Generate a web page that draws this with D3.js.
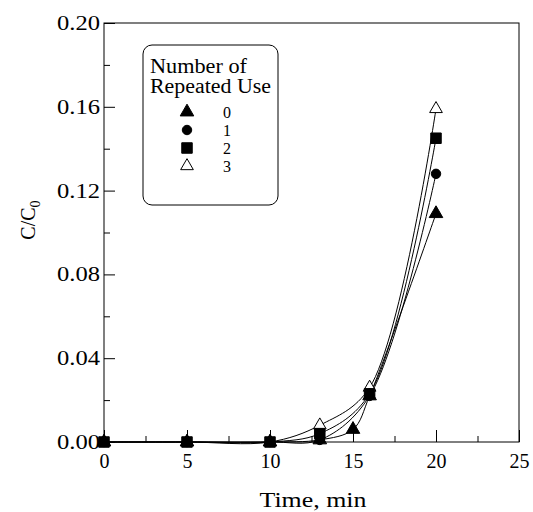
<!DOCTYPE html>
<html>
<head>
<meta charset="utf-8">
<script src="https://cdn.jsdelivr.net/npm/d3@7"></script>
<style>
  body { margin: 0; background: #fff; }
  svg text { font-family: "Liberation Serif", "Times New Roman", serif; fill: #000; }
</style>
</head>
<body>
<svg id="chart" width="533" height="512"></svg>
<script>
// ######## data
const use0 = [[0, 0], [5, 0], [10, 0], [13, 0.001], [15, 0.006], [16, 0.022], [20, 0.109]];
const use1 = [[0, 0], [5, 0], [10, 0], [13, 0.001], [16, 0.022], [20, 0.128]];
const use2 = [[0, 0], [5, 0], [10, 0], [13, 0.004], [16, 0.023], [20, 0.145]];
const use3 = [[0, 0], [5, 0], [10, 0], [13, 0.008], [16, 0.026], [20, 0.159]];

const seriesNames = ["0", "1", "2", "3"];
const xTicks = [0, 5, 10, 15, 20, 25];
const yTicks = [0, 0.04, 0.08, 0.12, 0.16, 0.20];

const serif = '"Liberation Serif", "Times New Roman", serif';

const svg = d3.select("#chart");
const x = d3.scaleLinear().domain([0, 25]).range([104, 519]);
const y = d3.scaleLinear().domain([0, 0.2]).range([442, 23]);

// frame
svg.append("rect")
    .attr("x", x(0)).attr("y", y(0.2))
    .attr("width", x(25) - x(0)).attr("height", y(0) - y(0.2))
    .attr("fill", "none").attr("stroke", "#000").attr("stroke-width", 1);

// ######## axes, ticks point inwards
const xAxis = svg.append("g").attr("transform", "translate(0," + y(0) + ")")
    .call(d3.axisBottom(x).tickValues(xTicks).tickSize(-12).tickPadding(12).tickFormat(d3.format("d")));
svg.append("g").attr("transform", "translate(0," + y(0) + ")")
    .call(d3.axisBottom(x).tickValues([2.5, 7.5, 12.5, 17.5, 22.5]).tickSize(-6).tickFormat(""));

const yAxis = svg.append("g").attr("transform", "translate(" + x(0) + ",0)")
    .call(d3.axisLeft(y).tickValues(yTicks).tickSize(-11).tickPadding(4).tickFormat(d3.format(".2f")));
svg.append("g").attr("transform", "translate(" + x(0) + ",0)")
    .call(d3.axisLeft(y).tickValues([0.02, 0.06, 0.10, 0.14, 0.18]).tickSize(-6).tickFormat(""));

svg.selectAll(".domain").remove();
svg.selectAll(".tick line").attr("stroke", "#000");
// the axis groups carry font-family="sans-serif", so override on the group too
xAxis.attr("font-family", serif);
yAxis.attr("font-family", serif);
xAxis.selectAll("text").style("font-family", serif).style("font-size", "20px");
yAxis.selectAll("text").style("font-family", serif).style("font-size", "20px")
    .attr("textLength", 43).attr("lengthAdjust", "spacingAndGlyphs");

// axis titles
svg.append("text")
    .attr("x", 313).attr("y", 507)
    .attr("text-anchor", "middle").style("font-size", "22px")
    .attr("textLength", 107).attr("lengthAdjust", "spacingAndGlyphs")
    .text("Time, min");

const yTitle = svg.append("text")
    .attr("transform", "translate(35,220) rotate(-90)")
    .attr("text-anchor", "middle").style("font-size", "20px");
yTitle.append("tspan").text("C/C");
yTitle.append("tspan").style("font-size", "14px").attr("dy", 5).text("0");

// ######## curves
const line = d3.line()
    .x(d => x(d[0])).y(d => y(d[1]))
    .curve(d3.curveCatmullRom.alpha(0.5));

const allSeries = [use0, use1, use2, use3];
allSeries.forEach(s => {
    svg.append("path")
        .attr("d", line(s))
        .attr("fill", "none").attr("stroke", "#000").attr("stroke-width", 1);
});

// ######## markers (open triangles underneath, squares on top)
const shapes = [
    { sym: d3.symbolTriangle, size: 80, fill: "#000" },
    { sym: d3.symbolCircle, size: 70, fill: "#000" },
    { sym: d3.symbolSquare, size: 110, fill: "#000" },
    { sym: d3.symbolTriangle, size: 70, fill: "#fff" }
];
const drawOrder = [3, 0, 1, 2];

drawOrder.forEach(i => {
    svg.append("g").selectAll("path")
        .data(allSeries[i])
        .join("path")
        .attr("transform", d => "translate(" + x(d[0]) + "," + y(d[1]) + ")")
        .attr("d", d3.symbol().type(shapes[i].sym).size(shapes[i].size))
        .attr("fill", shapes[i].fill)
        .attr("stroke", "#000").attr("stroke-width", 1);
});

// ######## legend
const legend = svg.append("g");
legend.append("rect")
    .attr("x", 143).attr("y", 45).attr("width", 135).attr("height", 160)
    .attr("rx", 9).attr("ry", 9)
    .attr("fill", "#fff").attr("stroke", "#000").attr("stroke-width", 1);
legend.append("text").attr("x", 150).attr("y", 73).style("font-size", "20px")
    .attr("textLength", 97).attr("lengthAdjust", "spacingAndGlyphs").text("Number of");
legend.append("text").attr("x", 150).attr("y", 93).style("font-size", "20px")
    .attr("textLength", 121).attr("lengthAdjust", "spacingAndGlyphs").text("Repeated Use");

seriesNames.forEach((name, i) => {
    const cy = 112 + i * 18;
    legend.append("path")
        .attr("transform", "translate(187," + cy + ")")
        .attr("d", d3.symbol().type(shapes[i].sym).size(shapes[i].size))
        .attr("fill", shapes[i].fill)
        .attr("stroke", "#000").attr("stroke-width", 1);
    legend.append("text")
        .attr("x", 227).attr("y", cy + 6)
        .attr("text-anchor", "middle").style("font-size", "16px")
        .text(name);
});
</script>
</body>
</html>
